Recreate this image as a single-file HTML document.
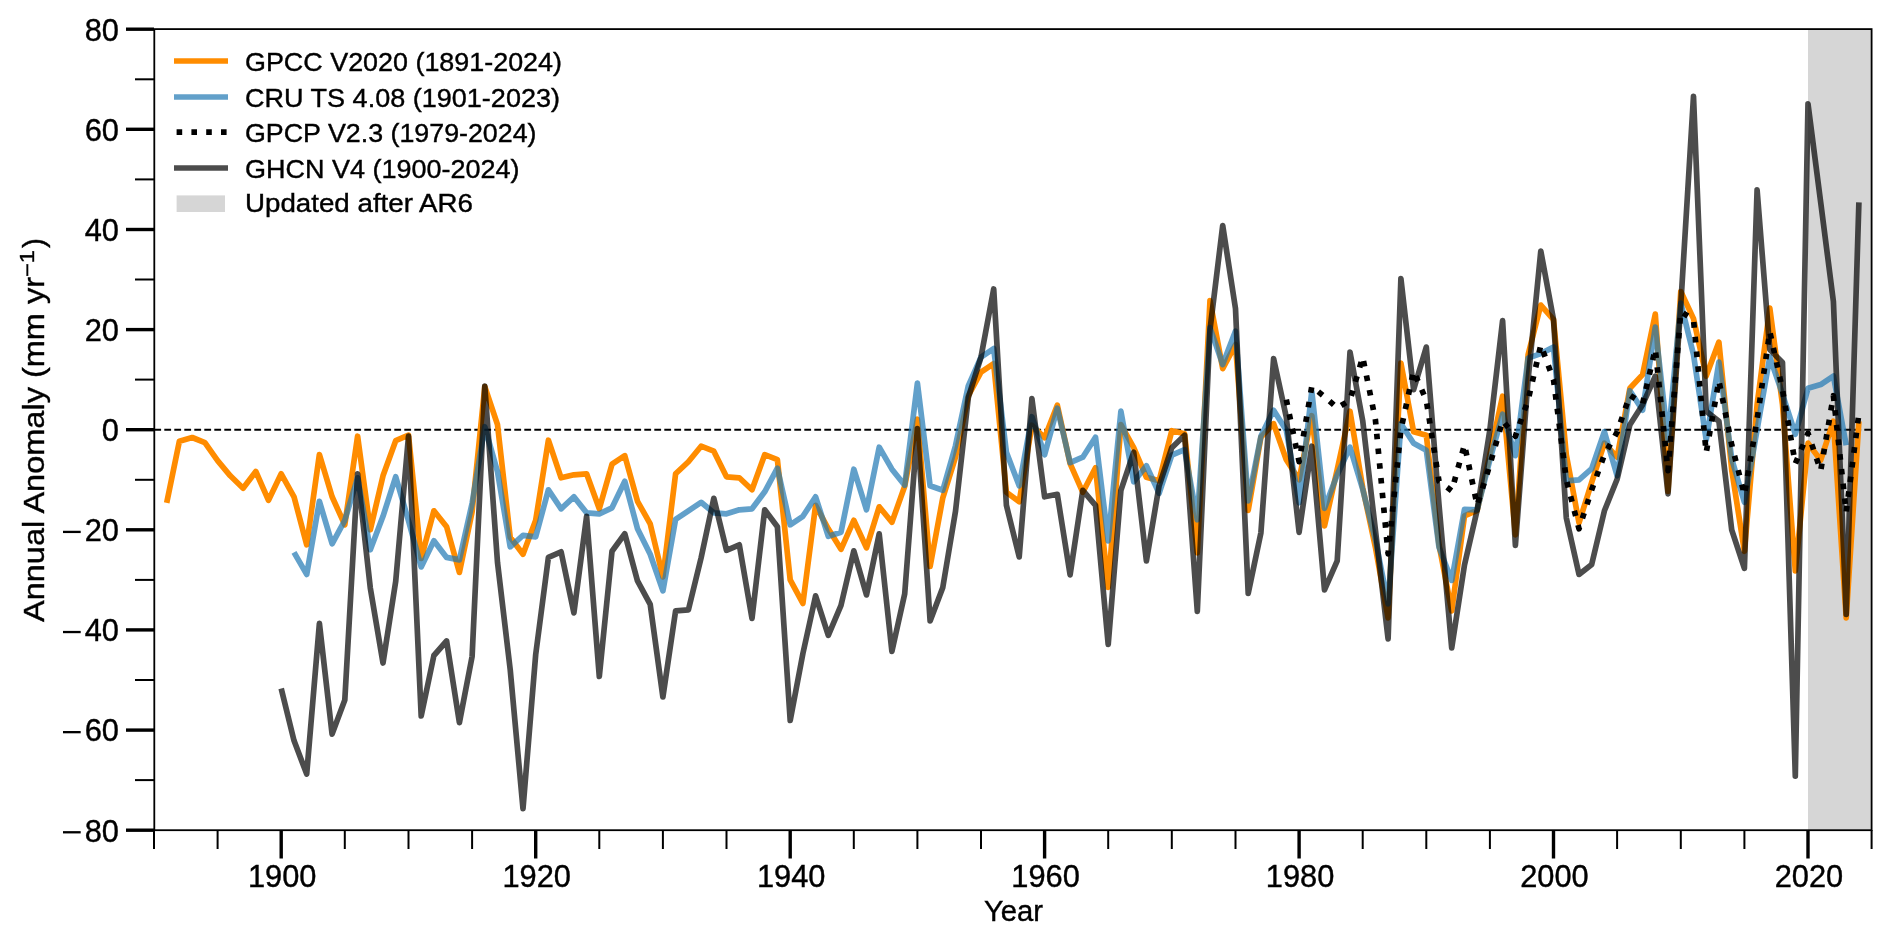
<!DOCTYPE html><html><head><meta charset="utf-8"><style>html,body{margin:0;padding:0;background:#fff;}</style></head><body><svg width="1892" height="941" viewBox="0 0 1892 941" style="display:block;will-change:transform">
<rect x="0" y="0" width="1892" height="941" fill="#fff"/>
<rect x="1808.0" y="29" width="63.6" height="801" fill="#d6d6d6"/>
<line x1="154.3" y1="429.85" x2="1871.6" y2="429.85" stroke="#000" stroke-width="2" stroke-dasharray="6.8,3.2"/>
<path d="M166.7,502.8 L179.4,441.2 L192.2,437.5 L204.9,442.7 L217.6,460.7 L230.3,475.8 L243.1,488.3 L255.8,471.5 L268.5,500.3 L281.2,473.8 L294.0,496.8 L306.7,544.8 L319.4,454.5 L332.1,496.8 L344.8,524.8 L357.6,436.2 L370.3,529.8 L383.0,475.8 L395.7,440.7 L408.5,435.2 L421.2,558.4 L433.9,510.8 L446.6,526.8 L459.4,572.4 L472.1,511.8 L484.8,386.6 L497.5,424.7 L510.2,537.3 L523.0,554.3 L535.7,520.3 L548.4,440.2 L561.1,477.8 L573.9,474.8 L586.6,473.8 L599.3,508.8 L612.0,464.2 L624.8,455.7 L637.5,501.3 L650.2,523.8 L662.9,576.9 L675.6,473.8 L688.4,461.7 L701.1,446.2 L713.8,451.2 L726.5,476.8 L739.3,477.8 L752.0,489.8 L764.7,454.7 L777.4,459.7 L790.2,579.9 L802.9,603.4 L815.6,505.3 L828.3,528.8 L841.0,549.3 L853.8,520.3 L866.5,547.8 L879.2,506.8 L891.9,522.3 L904.7,486.3 L917.4,419.2 L930.1,566.4 L942.8,497.8 L955.5,457.2 L968.3,395.7 L981.0,372.1 L993.7,363.6 L1006.4,492.3 L1019.2,501.8 L1031.9,425.2 L1044.6,437.7 L1057.3,405.2 L1070.1,463.7 L1082.8,492.3 L1095.5,467.7 L1108.2,587.4 L1120.9,424.7 L1133.7,447.7 L1146.4,477.3 L1159.1,480.8 L1171.8,430.7 L1184.6,433.7 L1197.3,552.8 L1210.0,300.5 L1222.7,368.6 L1235.5,344.6 L1248.2,510.3 L1260.9,437.2 L1273.6,423.7 L1286.3,459.7 L1299.1,479.8 L1311.8,415.7 L1324.5,525.8 L1337.2,469.7 L1350.0,411.2 L1362.7,487.8 L1375.4,547.3 L1388.1,617.9 L1400.9,363.1 L1413.6,431.7 L1426.3,435.2 L1439.0,544.8 L1451.7,610.9 L1464.5,515.8 L1477.2,510.3 L1489.9,454.7 L1502.6,396.2 L1515.4,534.8 L1528.1,354.6 L1540.8,305.1 L1553.5,319.6 L1566.3,454.7 L1579.0,522.8 L1591.7,482.3 L1604.4,443.2 L1617.1,457.2 L1629.9,388.2 L1642.6,374.6 L1655.3,314.1 L1668.0,491.3 L1680.8,291.5 L1693.5,318.6 L1706.2,376.1 L1718.9,342.1 L1731.7,469.7 L1744.4,551.3 L1757.1,404.7 L1769.8,308.1 L1782.5,404.7 L1795.3,570.9 L1808.0,443.2 L1820.7,460.2 L1833.4,421.2 L1846.2,617.9 L1858.9,421.2" fill="none" stroke="#ff8c00" stroke-width="5.7" stroke-linejoin="round" stroke-linecap="butt"/>
<path d="M294.0,552.3 L306.7,574.4 L319.4,501.3 L332.1,543.8 L344.8,520.3 L357.6,477.8 L370.3,549.8 L383.0,516.3 L395.7,476.8 L408.5,520.8 L421.2,566.9 L433.9,540.8 L446.6,557.4 L459.4,559.9 L472.1,503.3 L484.8,426.7 L497.5,471.8 L510.2,546.8 L523.0,535.3 L535.7,536.8 L548.4,489.8 L561.1,508.8 L573.9,496.8 L586.6,512.8 L599.3,513.8 L612.0,507.8 L624.8,481.3 L637.5,528.8 L650.2,554.3 L662.9,590.9 L675.6,519.3 L688.4,510.8 L701.1,502.3 L713.8,512.8 L726.5,513.8 L739.3,509.8 L752.0,508.8 L764.7,491.8 L777.4,468.2 L790.2,524.8 L802.9,516.3 L815.6,496.8 L828.3,536.3 L841.0,532.3 L853.8,469.2 L866.5,509.8 L879.2,447.2 L891.9,469.2 L904.7,485.3 L917.4,383.1 L930.1,485.8 L942.8,490.3 L955.5,445.7 L968.3,385.9 L981.0,357.1 L993.7,348.6 L1006.4,452.2 L1019.2,485.8 L1031.9,416.7 L1044.6,454.7 L1057.3,408.2 L1070.1,462.7 L1082.8,457.2 L1095.5,437.2 L1108.2,540.8 L1120.9,411.2 L1133.7,481.8 L1146.4,465.7 L1159.1,493.3 L1171.8,455.2 L1184.6,449.7 L1197.3,519.8 L1210.0,327.6 L1222.7,364.6 L1235.5,331.1 L1248.2,500.8 L1260.9,436.2 L1273.6,410.2 L1286.3,430.2 L1299.1,502.8 L1311.8,391.2 L1324.5,508.3 L1337.2,474.8 L1350.0,447.2 L1362.7,489.3 L1375.4,539.8 L1388.1,603.9 L1400.9,423.7 L1413.6,443.2 L1426.3,450.2 L1439.0,547.3 L1451.7,580.4 L1464.5,509.3 L1477.2,509.8 L1489.9,459.7 L1502.6,414.2 L1515.4,455.7 L1528.1,358.1 L1540.8,353.6 L1553.5,347.1 L1566.3,480.8 L1579.0,479.8 L1591.7,468.7 L1604.4,431.7 L1617.1,475.8 L1629.9,390.7 L1642.6,410.2 L1655.3,327.1 L1668.0,440.2 L1680.8,303.0 L1693.5,354.6 L1706.2,440.2 L1718.9,362.1 L1731.7,458.7 L1744.4,502.3 L1757.1,429.7 L1769.8,357.1 L1782.5,394.2 L1795.3,434.2 L1808.0,388.2 L1820.7,384.6 L1833.4,376.1 L1846.2,445.2" fill="none" stroke="#1f77b4" stroke-opacity="0.7" stroke-width="5.7" stroke-linejoin="round" stroke-linecap="butt"/>
<path d="M1286.3,399.7 L1299.1,461.7 L1311.8,386.4 L1324.5,396.7 L1337.2,407.9 L1350.0,400.2 L1362.7,357.1 L1375.4,419.7 L1388.1,553.8 L1400.9,429.7 L1413.6,371.1 L1426.3,400.2 L1439.0,481.3 L1451.7,490.8 L1464.5,444.7 L1477.2,505.3 L1489.9,464.7 L1502.6,420.7 L1515.4,436.2 L1528.1,400.2 L1540.8,345.1 L1553.5,379.6 L1566.3,479.8 L1579.0,528.8 L1591.7,489.8 L1604.4,454.7 L1617.1,432.2 L1629.9,395.2 L1642.6,403.7 L1655.3,349.1 L1668.0,470.7 L1680.8,311.6 L1693.5,319.6 L1706.2,452.7 L1718.9,380.6 L1731.7,444.7 L1744.4,494.8 L1757.1,419.7 L1769.8,331.6 L1782.5,389.7 L1795.3,463.7 L1808.0,433.2 L1820.7,470.7 L1833.4,395.7 L1846.2,512.3 L1858.9,413.7" fill="none" stroke="#000" stroke-width="5.7" stroke-dasharray="5.6,9.2" stroke-linejoin="round" stroke-linecap="butt"/>
<path d="M281.2,688.5 L294.0,740.6 L306.7,774.1 L319.4,623.4 L332.1,734.1 L344.8,700.0 L357.6,473.8 L370.3,587.9 L383.0,663.0 L395.7,581.4 L408.5,436.2 L421.2,716.0 L433.9,655.5 L446.6,641.0 L459.4,722.6 L472.1,656.5 L484.8,386.1 L497.5,562.4 L510.2,669.5 L523.0,808.7 L535.7,654.5 L548.4,557.4 L561.1,551.8 L573.9,612.9 L586.6,516.3 L599.3,676.5 L612.0,551.3 L624.8,533.8 L637.5,580.9 L650.2,604.4 L662.9,697.0 L675.6,610.9 L688.4,609.9 L701.1,557.9 L713.8,498.3 L726.5,550.3 L739.3,544.8 L752.0,618.4 L764.7,509.8 L777.4,526.8 L790.2,720.5 L802.9,653.5 L815.6,595.9 L828.3,635.4 L841.0,605.4 L853.8,550.8 L866.5,594.9 L879.2,533.8 L891.9,651.5 L904.7,593.9 L917.4,428.7 L930.1,620.9 L942.8,587.4 L955.5,511.3 L968.3,397.7 L981.0,357.1 L993.7,289.0 L1006.4,505.3 L1019.2,556.9 L1031.9,398.7 L1044.6,496.8 L1057.3,494.3 L1070.1,574.9 L1082.8,490.3 L1095.5,505.3 L1108.2,644.5 L1120.9,490.3 L1133.7,452.2 L1146.4,560.9 L1159.1,485.8 L1171.8,447.7 L1184.6,435.2 L1197.3,611.4 L1210.0,329.6 L1222.7,225.5 L1235.5,308.6 L1248.2,593.4 L1260.9,532.8 L1273.6,358.6 L1286.3,417.2 L1299.1,532.3 L1311.8,446.2 L1324.5,589.9 L1337.2,560.9 L1350.0,352.1 L1362.7,420.7 L1375.4,529.8 L1388.1,639.0 L1400.9,278.5 L1413.6,389.7 L1426.3,347.1 L1439.0,504.8 L1451.7,648.0 L1464.5,564.9 L1477.2,509.8 L1489.9,429.7 L1502.6,320.6 L1515.4,545.3 L1528.1,379.6 L1540.8,251.0 L1553.5,319.6 L1566.3,517.8 L1579.0,574.4 L1591.7,564.4 L1604.4,510.8 L1617.1,479.3 L1629.9,424.7 L1642.6,404.7 L1655.3,376.1 L1668.0,493.8 L1680.8,304.5 L1693.5,96.3 L1706.2,411.2 L1718.9,421.2 L1731.7,529.8 L1744.4,568.4 L1757.1,189.9 L1769.8,349.6 L1782.5,362.6 L1795.3,776.1 L1808.0,103.8 L1820.7,202.4 L1833.4,301.5 L1846.2,614.4 L1858.9,202.4" fill="none" stroke="#000" stroke-opacity="0.7" stroke-width="5.7" stroke-linejoin="round" stroke-linecap="butt"/>
<rect x="154.3" y="29.1" width="1717.3" height="801.1" fill="none" stroke="#000" stroke-width="1.8"/>
<line x1="126" y1="830.2" x2="154" y2="830.2" stroke="#000" stroke-width="3.4"/>
<text x="119.0" y="841.5" text-anchor="end" font-size="30.8" font-family="Liberation Sans, sans-serif" stroke="#000" stroke-width="0.4">80</text>
<rect x="63.0" y="831.13" width="17.7" height="2.3" fill="#000"/>
<line x1="126" y1="730.1" x2="154" y2="730.1" stroke="#000" stroke-width="3.4"/>
<text x="119.0" y="741.4" text-anchor="end" font-size="30.8" font-family="Liberation Sans, sans-serif" stroke="#000" stroke-width="0.4">60</text>
<rect x="63.0" y="731.01" width="17.7" height="2.3" fill="#000"/>
<line x1="126" y1="629.9" x2="154" y2="629.9" stroke="#000" stroke-width="3.4"/>
<text x="119.0" y="641.2" text-anchor="end" font-size="30.8" font-family="Liberation Sans, sans-serif" stroke="#000" stroke-width="0.4">40</text>
<rect x="63.0" y="630.89" width="17.7" height="2.3" fill="#000"/>
<line x1="126" y1="529.8" x2="154" y2="529.8" stroke="#000" stroke-width="3.4"/>
<text x="119.0" y="541.1" text-anchor="end" font-size="30.8" font-family="Liberation Sans, sans-serif" stroke="#000" stroke-width="0.4">20</text>
<rect x="63.0" y="530.77" width="17.7" height="2.3" fill="#000"/>
<line x1="126" y1="429.7" x2="154" y2="429.7" stroke="#000" stroke-width="3.4"/>
<text x="119.0" y="441.0" text-anchor="end" font-size="30.8" font-family="Liberation Sans, sans-serif" stroke="#000" stroke-width="0.4">0</text>
<line x1="126" y1="329.6" x2="154" y2="329.6" stroke="#000" stroke-width="3.4"/>
<text x="119.0" y="340.9" text-anchor="end" font-size="30.8" font-family="Liberation Sans, sans-serif" stroke="#000" stroke-width="0.4">20</text>
<line x1="126" y1="229.5" x2="154" y2="229.5" stroke="#000" stroke-width="3.4"/>
<text x="119.0" y="240.8" text-anchor="end" font-size="30.8" font-family="Liberation Sans, sans-serif" stroke="#000" stroke-width="0.4">40</text>
<line x1="126" y1="129.3" x2="154" y2="129.3" stroke="#000" stroke-width="3.4"/>
<text x="119.0" y="140.6" text-anchor="end" font-size="30.8" font-family="Liberation Sans, sans-serif" stroke="#000" stroke-width="0.4">60</text>
<line x1="126" y1="29.2" x2="154" y2="29.2" stroke="#000" stroke-width="3.4"/>
<text x="119.0" y="40.5" text-anchor="end" font-size="30.8" font-family="Liberation Sans, sans-serif" stroke="#000" stroke-width="0.4">80</text>
<line x1="135" y1="780.1" x2="154" y2="780.1" stroke="#000" stroke-width="2"/>
<line x1="135" y1="680.0" x2="154" y2="680.0" stroke="#000" stroke-width="2"/>
<line x1="135" y1="579.9" x2="154" y2="579.9" stroke="#000" stroke-width="2"/>
<line x1="135" y1="479.8" x2="154" y2="479.8" stroke="#000" stroke-width="2"/>
<line x1="135" y1="379.6" x2="154" y2="379.6" stroke="#000" stroke-width="2"/>
<line x1="135" y1="279.5" x2="154" y2="279.5" stroke="#000" stroke-width="2"/>
<line x1="135" y1="179.4" x2="154" y2="179.4" stroke="#000" stroke-width="2"/>
<line x1="135" y1="79.3" x2="154" y2="79.3" stroke="#000" stroke-width="2"/>
<line x1="154.0" y1="830" x2="154.0" y2="849" stroke="#000" stroke-width="2"/>
<line x1="217.6" y1="830" x2="217.6" y2="849" stroke="#000" stroke-width="2"/>
<line x1="281.2" y1="830" x2="281.2" y2="858.5" stroke="#000" stroke-width="3.4"/>
<text x="282.2" y="887.1" text-anchor="middle" font-size="30.8" font-family="Liberation Sans, sans-serif" stroke="#000" stroke-width="0.4">1900</text>
<line x1="344.8" y1="830" x2="344.8" y2="849" stroke="#000" stroke-width="2"/>
<line x1="408.5" y1="830" x2="408.5" y2="849" stroke="#000" stroke-width="2"/>
<line x1="472.1" y1="830" x2="472.1" y2="849" stroke="#000" stroke-width="2"/>
<line x1="535.7" y1="830" x2="535.7" y2="858.5" stroke="#000" stroke-width="3.4"/>
<text x="536.7" y="887.1" text-anchor="middle" font-size="30.8" font-family="Liberation Sans, sans-serif" stroke="#000" stroke-width="0.4">1920</text>
<line x1="599.3" y1="830" x2="599.3" y2="849" stroke="#000" stroke-width="2"/>
<line x1="662.9" y1="830" x2="662.9" y2="849" stroke="#000" stroke-width="2"/>
<line x1="726.5" y1="830" x2="726.5" y2="849" stroke="#000" stroke-width="2"/>
<line x1="790.2" y1="830" x2="790.2" y2="858.5" stroke="#000" stroke-width="3.4"/>
<text x="791.2" y="887.1" text-anchor="middle" font-size="30.8" font-family="Liberation Sans, sans-serif" stroke="#000" stroke-width="0.4">1940</text>
<line x1="853.8" y1="830" x2="853.8" y2="849" stroke="#000" stroke-width="2"/>
<line x1="917.4" y1="830" x2="917.4" y2="849" stroke="#000" stroke-width="2"/>
<line x1="981.0" y1="830" x2="981.0" y2="849" stroke="#000" stroke-width="2"/>
<line x1="1044.6" y1="830" x2="1044.6" y2="858.5" stroke="#000" stroke-width="3.4"/>
<text x="1045.6" y="887.1" text-anchor="middle" font-size="30.8" font-family="Liberation Sans, sans-serif" stroke="#000" stroke-width="0.4">1960</text>
<line x1="1108.2" y1="830" x2="1108.2" y2="849" stroke="#000" stroke-width="2"/>
<line x1="1171.8" y1="830" x2="1171.8" y2="849" stroke="#000" stroke-width="2"/>
<line x1="1235.5" y1="830" x2="1235.5" y2="849" stroke="#000" stroke-width="2"/>
<line x1="1299.1" y1="830" x2="1299.1" y2="858.5" stroke="#000" stroke-width="3.4"/>
<text x="1300.1" y="887.1" text-anchor="middle" font-size="30.8" font-family="Liberation Sans, sans-serif" stroke="#000" stroke-width="0.4">1980</text>
<line x1="1362.7" y1="830" x2="1362.7" y2="849" stroke="#000" stroke-width="2"/>
<line x1="1426.3" y1="830" x2="1426.3" y2="849" stroke="#000" stroke-width="2"/>
<line x1="1489.9" y1="830" x2="1489.9" y2="849" stroke="#000" stroke-width="2"/>
<line x1="1553.5" y1="830" x2="1553.5" y2="858.5" stroke="#000" stroke-width="3.4"/>
<text x="1554.5" y="887.1" text-anchor="middle" font-size="30.8" font-family="Liberation Sans, sans-serif" stroke="#000" stroke-width="0.4">2000</text>
<line x1="1617.1" y1="830" x2="1617.1" y2="849" stroke="#000" stroke-width="2"/>
<line x1="1680.8" y1="830" x2="1680.8" y2="849" stroke="#000" stroke-width="2"/>
<line x1="1744.4" y1="830" x2="1744.4" y2="849" stroke="#000" stroke-width="2"/>
<line x1="1808.0" y1="830" x2="1808.0" y2="858.5" stroke="#000" stroke-width="3.4"/>
<text x="1809.0" y="887.1" text-anchor="middle" font-size="30.8" font-family="Liberation Sans, sans-serif" stroke="#000" stroke-width="0.4">2020</text>
<line x1="1871.6" y1="830" x2="1871.6" y2="849" stroke="#000" stroke-width="2"/>
<text x="1013.5" y="921.0" text-anchor="middle" font-size="30" textLength="59" lengthAdjust="spacingAndGlyphs" font-family="Liberation Sans, sans-serif" stroke="#000" stroke-width="0.4">Year</text>
<text transform="translate(43.9,622) rotate(-90)" font-size="30" textLength="345" lengthAdjust="spacingAndGlyphs" font-family="Liberation Sans, sans-serif" stroke="#000" stroke-width="0.4">Annual Anomaly (mm yr</text>
<text transform="translate(34,277) rotate(-90)" font-size="20" textLength="27" lengthAdjust="spacingAndGlyphs" font-family="Liberation Sans, sans-serif" stroke="#000" stroke-width="0.4">−1</text>
<text transform="translate(43.9,248) rotate(-90)" font-size="30" font-family="Liberation Sans, sans-serif" stroke="#000" stroke-width="0.4">)</text>
<line x1="174" y1="61.0" x2="228" y2="61.0" stroke="#ff8c00" stroke-width="5.7"/>
<text x="245" y="70.6" font-size="26.3" textLength="317" lengthAdjust="spacingAndGlyphs" font-family="Liberation Sans, sans-serif" stroke="#000" stroke-width="0.4">GPCC V2020 (1891-2024)</text>
<line x1="174" y1="97.0" x2="228" y2="97.0" stroke="#1f77b4" stroke-opacity="0.7" stroke-width="5.7"/>
<text x="245" y="106.6" font-size="26.3" textLength="315" lengthAdjust="spacingAndGlyphs" font-family="Liberation Sans, sans-serif" stroke="#000" stroke-width="0.4">CRU TS 4.08 (1901-2023)</text>
<line x1="176.6" y1="132.2" x2="228" y2="132.2" stroke="#000" stroke-dasharray="5.6,9.2" stroke-width="5.7"/>
<text x="245" y="141.8" font-size="26.3" textLength="291.5" lengthAdjust="spacingAndGlyphs" font-family="Liberation Sans, sans-serif" stroke="#000" stroke-width="0.4">GPCP V2.3 (1979-2024)</text>
<line x1="174" y1="168.0" x2="228" y2="168.0" stroke="#000" stroke-opacity="0.7" stroke-width="5.7"/>
<text x="245" y="177.6" font-size="26.3" textLength="274.5" lengthAdjust="spacingAndGlyphs" font-family="Liberation Sans, sans-serif" stroke="#000" stroke-width="0.4">GHCN V4 (1900-2024)</text>
<rect x="176.6" y="195.4" width="48.4" height="16.6" fill="#d6d6d6"/>
<text x="245" y="212.2" font-size="26.3" textLength="228" lengthAdjust="spacingAndGlyphs" font-family="Liberation Sans, sans-serif" stroke="#000" stroke-width="0.4">Updated after AR6</text>
</svg></body></html>
